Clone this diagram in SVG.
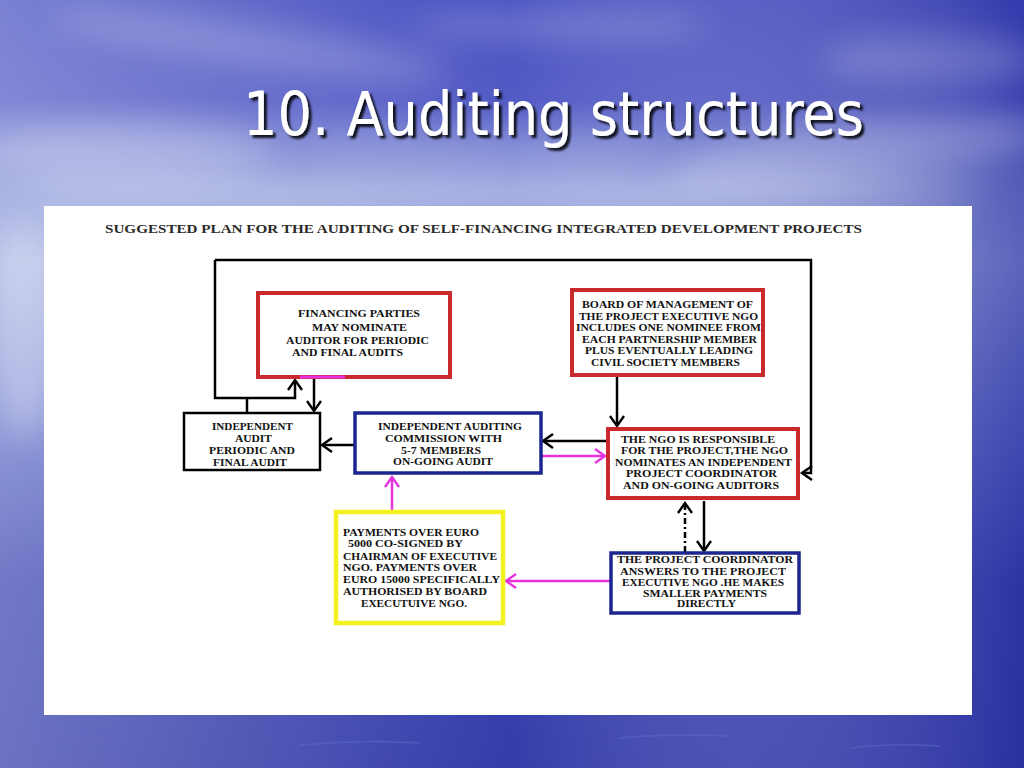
<svg xmlns="http://www.w3.org/2000/svg" width="1024" height="768" viewBox="0 0 1024 768">
<defs>
  <linearGradient id="sky" x1="0" y1="0" x2="0" y2="1">
    <stop offset="0" stop-color="#4650c0"/>
    <stop offset="0.13" stop-color="#525ac5"/>
    <stop offset="0.24" stop-color="#8693d7"/>
    <stop offset="0.34" stop-color="#98a5de"/>
    <stop offset="0.55" stop-color="#6573c9"/>
    <stop offset="0.76" stop-color="#3a44b0"/>
    <stop offset="1" stop-color="#333ca9"/>
  </linearGradient>
  <linearGradient id="side" x1="0" y1="0" x2="1" y2="0">
    <stop offset="0" stop-color="#ffffff" stop-opacity="0.28"/>
    <stop offset="0.5" stop-color="#ffffff" stop-opacity="0"/>
    <stop offset="1" stop-color="#1e2498" stop-opacity="0.5"/>
  </linearGradient>
  <filter id="blur" x="-50%" y="-50%" width="200%" height="200%">
    <feGaussianBlur stdDeviation="16"/>
  </filter>
  <filter id="shadow" x="-5%" y="-20%" width="110%" height="140%">
    <feDropShadow dx="3" dy="3" stdDeviation="1" flood-color="#000" flood-opacity="0.85"/>
  </filter>
  <marker id="ah" markerUnits="userSpaceOnUse" markerWidth="16" markerHeight="18" refX="12" refY="8" orient="auto">
    <path d="M2,1 L12,8 L2,15" fill="none" stroke="#000" stroke-width="2.4"/>
  </marker>
  <marker id="ahm" markerUnits="userSpaceOnUse" markerWidth="16" markerHeight="18" refX="12" refY="8" orient="auto">
    <path d="M2,1 L12,8 L2,15" fill="none" stroke="#e633dd" stroke-width="2.4"/>
  </marker>
  <style>
    .box { fill: #ffffff; }
    .red { stroke: #c92a2e; stroke-width: 4; }
    .blue { stroke: #1c2590; stroke-width: 3.5; }
    .blk { stroke: #000; stroke-width: 2.5; }
    .yel { stroke: #f4f21e; stroke-width: 4.5; }
    .t { font-family: "Liberation Serif", "Times New Roman", serif; font-weight: bold; font-size: 11px; fill: #111; }
    .c { stroke: #000; stroke-width: 2.5; fill: none; }
    .m { stroke: #e633dd; stroke-width: 2.5; fill: none; }
  </style>
</defs>

<g id="background">
  <rect x="0" y="0" width="1024" height="768" fill="url(#sky)"/>
  <rect x="0" y="0" width="1024" height="768" fill="url(#side)"/>
  <g filter="url(#blur)" fill="#ffffff">
    <ellipse cx="250" cy="45" rx="200" ry="20" opacity="0.22" transform="rotate(8 250 45)"/>
    <ellipse cx="560" cy="25" rx="150" ry="16" opacity="0.2"/>
    <ellipse cx="130" cy="150" rx="150" ry="28" opacity="0.28"/>
    <ellipse cx="480" cy="150" rx="200" ry="20" opacity="0.18"/>
    <ellipse cx="860" cy="150" rx="190" ry="30" opacity="0.25" transform="rotate(-6 860 150)"/>
    <ellipse cx="930" cy="60" rx="110" ry="26" opacity="0.2"/>
    <ellipse cx="25" cy="330" rx="35" ry="110" opacity="0.3"/>
    <ellipse cx="500" cy="195" rx="480" ry="18" opacity="0.3"/>
  </g>
  <g stroke="#5967c6" stroke-width="2" opacity="0.5" fill="none">
    <path d="M80,735 q40,-6 90,-3"/>
    <path d="M300,745 q60,-6 120,-2"/>
    <path d="M620,738 q50,-5 110,-2"/>
    <path d="M850,748 q40,-5 90,-2"/>
  </g>
</g>

<text id="title" x="243" y="135" font-family="'DejaVu Sans Condensed', 'DejaVu Sans', sans-serif" font-size="60" fill="#ffffff" textLength="621" lengthAdjust="spacingAndGlyphs" filter="url(#shadow)">10. Auditing structures</text>

<rect id="panel" x="44" y="206" width="928" height="509" fill="#ffffff"/>

<text id="subtitle" x="105" y="233" font-family="'Liberation Serif', 'Times New Roman', serif" font-weight="bold" font-size="11.5" fill="#2a2a2a" textLength="757" lengthAdjust="spacingAndGlyphs">SUGGESTED PLAN FOR THE  AUDITING OF SELF-FINANCING INTEGRATED DEVELOPMENT PROJECTS</text>

<g id="connectors">
  <path class="c" d="M215,260 V398 H295 V380" marker-end="url(#ah)"/>
  <path class="c" d="M215,260 H811 V473 H802" marker-end="url(#ah)"/>
  <path class="c" d="M247,398 V413"/>
  <path class="c" d="M314,379 V411" marker-end="url(#ah)"/>
  <path class="c" d="M354,445 H322" marker-end="url(#ah)"/>
  <path class="c" d="M606,441 H543" marker-end="url(#ah)"/>
  <path class="m" d="M542,456 H605" marker-end="url(#ahm)"/>
  <path class="c" d="M617,377 V426" marker-end="url(#ah)"/>
  <path class="c" d="M704,501 V551" marker-end="url(#ah)"/>
  <path class="c" d="M685,552 V503" stroke-dasharray="6,3,2,3" marker-end="url(#ah)"/>
  <path class="m" d="M610,581 H506" marker-end="url(#ahm)"/>
  <path class="m" d="M392,510 V477" marker-end="url(#ahm)"/>
</g>

<g id="node-financing">
  <rect class="box red" x="258" y="293" width="192" height="84" stroke="#d42a2e"/>
  <path d="M300,377 H345" stroke="#e633dd" stroke-width="3"/>
  <text class="t" x="298" y="317" textLength="122" lengthAdjust="spacingAndGlyphs">FINANCING PARTIES</text>
  <text class="t" x="312" y="331" textLength="95" lengthAdjust="spacingAndGlyphs">MAY NOMINATE</text>
  <text class="t" x="286" y="344" textLength="143" lengthAdjust="spacingAndGlyphs">AUDITOR FOR PERIODIC</text>
  <text class="t" x="292" y="356" textLength="111" lengthAdjust="spacingAndGlyphs">AND FINAL AUDITS</text>
</g>

<g id="node-independent-audit">
  <rect class="box blk" x="184" y="413" width="136" height="57"/>
  <text class="t" x="212" y="430" textLength="81" lengthAdjust="spacingAndGlyphs">INDEPENDENT</text>
  <text class="t" x="235" y="442" textLength="37" lengthAdjust="spacingAndGlyphs">AUDIT</text>
  <text class="t" x="209" y="454" textLength="86" lengthAdjust="spacingAndGlyphs">PERIODIC AND</text>
  <text class="t" x="213" y="466" textLength="74" lengthAdjust="spacingAndGlyphs">FINAL AUDIT</text>
</g>

<g id="node-commission">
  <rect class="box blue" x="355" y="413" width="186" height="60"/>
  <text class="t" x="378" y="430" textLength="144" lengthAdjust="spacingAndGlyphs">INDEPENDENT AUDITING</text>
  <text class="t" x="385" y="442" textLength="117" lengthAdjust="spacingAndGlyphs">COMMISSION WITH</text>
  <text class="t" x="401" y="454" textLength="80" lengthAdjust="spacingAndGlyphs">5-7 MEMBERS</text>
  <text class="t" x="393" y="465" textLength="100" lengthAdjust="spacingAndGlyphs">ON-GOING AUDIT</text>
</g>

<g id="node-board">
  <rect class="box red" x="572" y="290" width="191" height="85"/>
  <text class="t" x="582" y="308" textLength="171" lengthAdjust="spacingAndGlyphs">BOARD OF MANAGEMENT OF</text>
  <text class="t" x="579" y="320" textLength="179" lengthAdjust="spacingAndGlyphs">THE PROJECT EXECUTIVE NGO</text>
  <text class="t" x="576" y="331" textLength="185" lengthAdjust="spacingAndGlyphs">INCLUDES ONE NOMINEE FROM</text>
  <text class="t" x="582" y="343" textLength="175" lengthAdjust="spacingAndGlyphs">EACH PARTNERSHIP MEMBER</text>
  <text class="t" x="585" y="354" textLength="168" lengthAdjust="spacingAndGlyphs">PLUS EVENTUALLY LEADING</text>
  <text class="t" x="591" y="366" textLength="149" lengthAdjust="spacingAndGlyphs">CIVIL SOCIETY MEMBERS</text>
</g>

<g id="node-ngo">
  <rect class="box red" x="608" y="429" width="190" height="69"/>
  <text class="t" x="621" y="443" textLength="154" lengthAdjust="spacingAndGlyphs">THE NGO IS RESPONSIBLE</text>
  <text class="t" x="621" y="454" textLength="167" lengthAdjust="spacingAndGlyphs">FOR THE PROJECT,THE NGO</text>
  <text class="t" x="615" y="466" textLength="177" lengthAdjust="spacingAndGlyphs">NOMINATES AN INDEPENDENT</text>
  <text class="t" x="626" y="477" textLength="151" lengthAdjust="spacingAndGlyphs">PROJECT COORDINATOR</text>
  <text class="t" x="623" y="489" textLength="156" lengthAdjust="spacingAndGlyphs">AND ON-GOING AUDITORS</text>
</g>

<g id="node-coordinator">
  <rect class="box blue" x="611" y="553" width="188" height="60"/>
  <text class="t" x="617" y="563" textLength="176" lengthAdjust="spacingAndGlyphs">THE PROJECT COORDINATOR</text>
  <text class="t" x="620" y="575" textLength="166" lengthAdjust="spacingAndGlyphs">ANSWERS TO THE PROJECT</text>
  <text class="t" x="622" y="586" textLength="162" lengthAdjust="spacingAndGlyphs">EXECUTIVE NGO .HE MAKES</text>
  <text class="t" x="643" y="597" textLength="124" lengthAdjust="spacingAndGlyphs">SMALLER PAYMENTS</text>
  <text class="t" x="677" y="607" textLength="59" lengthAdjust="spacingAndGlyphs">DIRECTLY</text>
</g>

<g id="node-payments">
  <rect class="box yel" x="336" y="512" width="167" height="111"/>
  <text class="t" x="343" y="536" textLength="136" lengthAdjust="spacingAndGlyphs">PAYMENTS OVER EURO</text>
  <text class="t" x="348" y="547" textLength="115" lengthAdjust="spacingAndGlyphs">5000 CO-SIGNED BY</text>
  <text class="t" x="343" y="560" textLength="154" lengthAdjust="spacingAndGlyphs">CHAIRMAN OF EXECUTIVE</text>
  <text class="t" x="343" y="571" textLength="134" lengthAdjust="spacingAndGlyphs">NGO. PAYMENTS OVER</text>
  <text class="t" x="343" y="583" textLength="157" lengthAdjust="spacingAndGlyphs">EURO 15000 SPECIFICALLY</text>
  <text class="t" x="343" y="595" textLength="144" lengthAdjust="spacingAndGlyphs">AUTHORISED BY BOARD</text>
  <text class="t" x="361" y="607" textLength="106" lengthAdjust="spacingAndGlyphs">EXECUTUIVE NGO.</text>
</g>
</svg>
